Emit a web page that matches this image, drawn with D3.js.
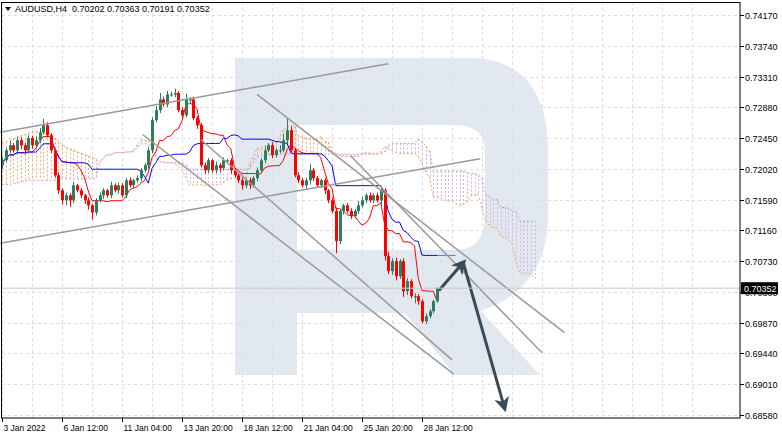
<!DOCTYPE html>
<html><head><meta charset="utf-8">
<script src="https://cdn.jsdelivr.net/npm/d3@7"></script>
<style>body{margin:0;background:#fff}svg{display:block;font-family:"Liberation Sans",Arial,sans-serif}</style>
</head><body><svg id="c" width="782" height="438"></svg>
<script>
const closes=[0.7214,0.7228,0.7235,0.7228,0.7242,0.7235,0.7228,0.7245,0.7235,0.7242,0.7253,0.7263,0.7249,
0.7228,0.7193,0.7172,0.7158,
0.7165,0.7158,0.7179,0.7172,0.7165,0.7158,0.7151,0.7141,
0.7158,0.7165,0.7172,0.7165,0.7179,0.7172,0.7179,0.7165,0.7186,0.7179,0.7186,0.7189,0.7200,0.7207,0.7228,0.7270,
0.7284,0.7299,0.7292,0.7306,0.7306,0.7308,
0.7284,0.7277,0.7299,0.7299,0.7273,0.7263,
0.7207,0.7200,0.7214,0.7200,0.7207,0.7203,0.7214,0.7214,0.7200,0.7193,
0.7186,0.7179,0.7186,0.7179,0.7189,0.7200,0.7214,0.7228,0.7235,0.7221,
0.7228,0.7228,0.7242,0.7256,0.7228,0.7193,0.7186,0.7179,
0.7186,0.7200,0.7189,0.7179,0.7186,0.7172,0.7158,0.7143,
0.7101,0.7143,0.7151,0.7143,0.7136,
0.7143,0.7151,0.7158,0.7165,0.7158,0.7165,0.7158,0.7172,
0.7080,0.7059,0.7073,0.7052,0.7073,0.7031,0.7045,0.7024,
0.7024,0.7017,0.6989,0.6996,0.7003,0.7017,0.70352];
const wickUp=[4,3,6,3,5,4,3,4,3,5,6,9,4,3,2,4,3,4,3,5,2,3,2,4,2,3,4,3,2,5,3,4,3,3,4,2,4,3,3,5,4,6,9,4,5,4,6,3,4,8,3,4,3,3,4,3,2,5,3,4,2,3,3,2,4,3,4,3,4,3,5,3,4,3,7,9,17,5,3,4,3,4,9,3,3,2,3,2,4,5,3,2,3,4,3,6,5,3,4,3,4,5,3,6,4,5,3,4,4,3,4,3,3,4,3,2,1];
const wickDn=[5,3,4,3,3,5,6,3,5,3,4,3,3,4,3,5,6,7,9,4,3,4,5,6,10,4,3,5,3,4,3,5,3,4,3,4,3,4,3,5,4,3,4,3,4,3,4,3,4,3,6,3,5,3,5,4,3,4,6,3,4,5,3,4,6,4,5,3,4,3,4,3,4,3,4,3,4,3,3,4,3,5,6,4,3,4,5,4,3,17,4,5,3,4,3,4,3,4,3,4,3,12,6,4,5,6,4,8,5,3,10,5,3,4,3,3,2];
// cloud values for the first 26 bars (from earlier history)
const earlySpanA=[0.7238,0.7240,0.7242,0.7244,0.7246,0.7248,0.7250,0.7252,0.7254,0.7254,0.7254,0.7254,0.7250,0.7248,0.7245,0.7240,0.7236,0.7232,0.7230,0.7228,0.7226,0.7224,0.7222,0.7220,0.7218,0.7216];
const earlySpanB=[0.7180,0.7180,0.7180,0.7182,0.7182,0.7184,0.7184,0.7186,0.7186,0.7186,0.7186,0.7186,0.7186,0.7186,0.7186,0.7188,0.7188,0.7188,0.7188,0.7188,0.7188,0.7188,0.7188,0.7188,0.7188,0.7188];
const priceTicks=[0.74170,0.73740,0.73310,0.72880,0.72450,0.72020,0.71590,0.71160,0.70730,0.70300,0.69870,0.69440,0.69010,0.68580];
const dateLabels=["3 Jan 2022","6 Jan 12:00","11 Jan 04:00","13 Jan 20:00","18 Jan 12:00","21 Jan 04:00","25 Jan 20:00","28 Jan 12:00"];
const dateIdx=[0,16,32,48,64,80,96,112];
const trendLines=[[[-0.5,0.7253],[103,0.7349]],[[-0.5,0.7098],[127.5,0.7216]],[[37.5,0.7250],[120.5,0.6915]],
[[53,0.7243],[120,0.6935]],[[68,0.7306],[150,0.6973]],[[93,0.7220],[144,0.6945]]];
const arrows=[[[116.5,0.7032],[123,0.7071]],[[123,0.7071],[134,0.6868]]];
const title="AUDUSD,H4  0.70202 0.70363 0.70191 0.70352";

const svg=d3.select("#c");
const W=740,T=2,B=418;
const x=d3.scaleLinear().domain([0,1]).range([2,5.75]);
const y=d3.scaleLinear().domain([0.74170,0.68580]).range([15,415]);
const pip=0.0001;
const data=closes.map((c,i)=>{const o=i?closes[i-1]:0.7207;return{i,o,c,h:Math.max(o,c)+wickUp[i]*pip,l:Math.min(o,c)-wickDn[i]*pip};});

svg.append("path").attr("fill","#e2e8f0").attr("fill-rule","evenodd")
 .attr("d","M235,58 H470 C520,58 548,90 548,150 V215 C548,268 520,300 480,310 L540,375 H455 L405,313 H297 V375 H235 Z M297,125 V250 H455 C475,250 485,238 485,215 V150 C485,135 475,125 455,125 Z");

const defs=svg.append("defs");
const g=svg.append("g");
priceTicks.forEach(p=>g.append("line").attr("x1",2).attr("x2",W).attr("y1",Math.round(y(p))+0.5).attr("y2",Math.round(y(p))+0.5).attr("stroke","#ddd").attr("stroke-dasharray","3,3"));
for(let k=0;k<=184;k+=8){const xx=Math.round(x(k))+0.5;if(xx<W)g.append("line").attr("x1",xx).attr("x2",xx).attr("y1",T).attr("y2",B).attr("stroke","#ddd").attr("stroke-dasharray","3,3");}

const hi=data.map(d=>d.h),lo=data.map(d=>d.l);
function mid(i,n){const s=Math.max(0,i-n+1);return (d3.max(hi.slice(s,i+1))+d3.min(lo.slice(s,i+1)))/2;}
const ten=data.map((d,i)=>mid(i,9)),kij=data.map((d,i)=>mid(i,26));
const spanA=earlySpanA.map((v,i)=>({i,v})),spanB=earlySpanB.map((v,i)=>({i,v}));
data.forEach((d,i)=>{spanA.push({i:i+26,v:(ten[i]+kij[i])/2});spanB.push({i:i+26,v:mid(i,52)});});
const ln=d3.line().x(d=>x(d.i)).y(d=>y(d.v));
const cl=svg.append("g");
for(let k=0;k<spanA.length;k++){const a=spanA[k],b=spanB[k];const xx=Math.round(x(a.i))+0.5;
 cl.append("line").attr("x1",xx).attr("x2",xx).attr("y1",y(Math.max(a.v,b.v))).attr("y2",y(Math.min(a.v,b.v))).attr("stroke",a.v>=b.v?"#f5b07a":"#d4b4e0").attr("stroke-dasharray","2,2");}
cl.append("path").attr("d",ln(spanA)).attr("fill","none").attr("stroke","#f0a060").attr("stroke-dasharray","2,2");
cl.append("path").attr("d",ln(spanB)).attr("fill","none").attr("stroke","#c8a0d8").attr("stroke-dasharray","2,2");
svg.append("path").attr("d",ln(ten.map((v,i)=>({i,v})))).attr("fill","none").attr("stroke","#ff0000").attr("stroke-width",1);
svg.append("path").attr("d",ln(kij.map((v,i)=>({i,v})))).attr("fill","none").attr("stroke","#0000ff").attr("stroke-width",1);
svg.append("line").attr("x1",x(116)).attr("x2",x(121)).attr("y1",y(kij[116])).attr("y2",y(kij[116])).attr("stroke","#6f6fff");

const cg=svg.append("g");
data.forEach(d=>{const col=d.c>=d.o?"#2e7d5b":"#ff0000";const cx=Math.round(x(d.i))+0.5;
 cg.append("line").attr("x1",cx).attr("x2",cx).attr("y1",y(d.h)).attr("y2",y(d.l)).attr("stroke",col);
 cg.append("rect").attr("x",cx-1.5).attr("width",3).attr("y",y(Math.max(d.o,d.c))).attr("height",Math.max(1,Math.abs(y(d.o)-y(d.c)))).attr("fill",col);});

trendLines.forEach(t=>svg.append("line").attr("x1",x(t[0][0])).attr("y1",y(t[0][1])).attr("x2",x(t[1][0])).attr("y2",y(t[1][1])).attr("stroke","#9a9a9a").attr("stroke-width",1.5));
defs.append("marker").attr("id","ah").attr("viewBox","0 0 10 10").attr("refX",7).attr("refY",5).attr("markerWidth",5).attr("markerHeight",5).attr("orient","auto")
 .append("path").attr("d","M0,0 L10,5 L0,10 L3,5 Z").attr("fill","#3b4a57");
arrows.forEach(a=>svg.append("line").attr("x1",x(a[0][0])).attr("y1",y(a[0][1])).attr("x2",x(a[1][0])).attr("y2",y(a[1][1])).attr("stroke","#3b4a57").attr("stroke-width",3).attr("marker-end","url(#ah)"));

const last=closes[closes.length-1];
svg.append("line").attr("x1",2).attr("x2",W).attr("y1",y(last)).attr("y2",y(last)).attr("stroke","#c8c8c8");

svg.append("rect").attr("x",1.5).attr("y",2.5).attr("width",W-1.5).attr("height",B-2.5).attr("fill","none").attr("stroke","#000");
const ax=svg.append("g").attr("font-size",9).attr("fill","#000");
priceTicks.forEach(p=>{if(Math.abs(p-last)<0.0003)return;const yy=Math.round(y(p))+0.5;
 ax.append("line").attr("x1",W).attr("x2",W+4).attr("y1",yy).attr("y2",yy).attr("stroke","#000");
 ax.append("text").attr("x",W+5).attr("y",yy+3.5).text(p.toFixed(5));});
svg.append("rect").attr("x",W+1).attr("y",y(last)-6).attr("width",37).attr("height",12).attr("fill","#000");
svg.append("text").attr("x",W+4).attr("y",y(last)+3.5).attr("font-size",9).attr("fill","#fff").text(last.toFixed(5));
dateIdx.forEach((k,j)=>{const xx=Math.round(x(k))+0.5;
 ax.append("line").attr("x1",xx).attr("x2",xx).attr("y1",B).attr("y2",B+4).attr("stroke","#000");
 ax.append("text").attr("x",xx+1).attr("y",B+13).attr("font-size",8.5).text(dateLabels[j]);});
svg.append("path").attr("d","M5,7 L11,7 L8,11 Z").attr("fill","#000");
svg.append("text").attr("x",15).attr("y",12).attr("font-size",9).attr("xml:space","preserve").text(title);
</script></body></html>
